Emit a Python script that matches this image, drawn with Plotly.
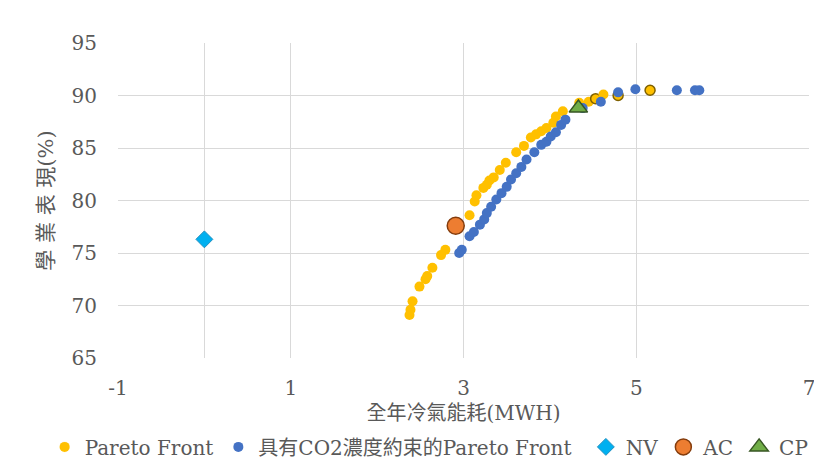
import plotly.graph_objects as go

# Pareto Front (yellow)
pf_x = [2.375, 2.386, 2.41, 2.49, 2.56, 2.58, 2.64, 2.74, 2.79, 2.92, 3.07, 3.13, 3.15, 3.23, 3.27,
        3.30, 3.35, 3.42, 3.49, 3.61, 3.70, 3.78, 3.84, 3.90, 3.96, 4.04, 4.07, 4.15, 4.34, 4.45,
        4.53, 4.62, 4.79, 5.16]
pf_y = [69.1, 69.6, 70.4, 71.8, 72.5, 72.8, 73.6, 74.8, 75.3, 77.4, 78.6, 79.9, 80.5, 81.2, 81.5,
        81.9, 82.2, 82.9, 83.6, 84.6, 85.2, 86.0, 86.3, 86.6, 86.9, 87.4, 88.0, 88.5, 89.3, 89.4,
        89.7, 90.1, 90.0, 90.5]
pf_outlined = [4.53, 4.79, 5.16]

# Pareto Front with CO2 constraint (blue)
co2_x = [2.95, 2.98, 3.07, 3.12, 3.19, 3.24, 3.27, 3.32, 3.38, 3.44, 3.50, 3.55, 3.61, 3.67, 3.73,
         3.82, 3.90, 3.96, 4.01, 4.07, 4.13, 4.18, 4.38, 4.59, 4.79, 4.99, 5.47, 5.68, 5.73]
co2_y = [75.0, 75.3, 76.6, 77.0, 77.7, 78.2, 78.8, 79.4, 80.1, 80.7, 81.3, 82.0, 82.6, 83.2, 83.9,
         84.6, 85.3, 85.6, 86.1, 86.5, 87.2, 87.7, 88.8, 89.4, 90.3, 90.6, 90.5, 90.5, 90.5]

nv_x, nv_y = [0.0], [76.3]
ac_x, ac_y = [2.91], [77.6]
cp_x, cp_y = [4.33], [88.8]

x_ticks = [-1, 1, 3, 5, 7]
y_ticks = [65, 70, 75, 80, 85, 90, 95]

font_fam = "DejaVu Serif, Noto Sans CJK TC, serif"
txt = "#595959"

pf_line_colors = ["#7F6000" if x in pf_outlined else "#FFC000" for x in pf_x]
pf_line_widths = [1.5 if x in pf_outlined else 0 for x in pf_x]

fig = go.Figure()
fig.add_trace(go.Scatter(x=pf_x, y=pf_y, mode="markers", name="Pareto Front", legend="legend",
                         marker=dict(color="#FFC000", size=10,
                                     line=dict(color=pf_line_colors, width=pf_line_widths))))
fig.add_trace(go.Scatter(x=co2_x, y=co2_y, mode="markers", name="具有CO2濃度約束的Pareto Front",
                         legend="legend",
                         marker=dict(color="#4472C4", size=10, line=dict(width=0))))
fig.add_trace(go.Scatter(x=nv_x, y=nv_y, mode="markers", name="NV", legend="legend2",
                         marker=dict(color="#00B0F0", size=13, symbol="diamond",
                                     line=dict(color="#1F8FC0", width=1))))
fig.add_trace(go.Scatter(x=ac_x, y=ac_y, mode="markers", name="AC", legend="legend2",
                         marker=dict(color="#ED7D31", size=17, symbol="circle",
                                     line=dict(color="#843C0C", width=1.5))))
fig.add_trace(go.Scatter(x=cp_x, y=cp_y, mode="markers", name="CP", legend="legend2",
                         marker=dict(color="#70AD47", size=16, symbol="triangle-up",
                                     line=dict(color="#375623", width=1.5))))

legend_common = dict(orientation="h", xref="container", yref="container", y=0.05, yanchor="middle",
                     font=dict(size=20, color=txt), itemwidth=30, tracegroupgap=0,
                     bgcolor="rgba(0,0,0,0)")

fig.update_layout(
    width=814, height=462,
    margin=dict(l=110, r=7, t=35, b=112),
    paper_bgcolor="white", plot_bgcolor="white",
    font=dict(family=font_fam, color=txt, size=20),
    showlegend=True,
    legend=dict(x=0.045, xanchor="left", **legend_common),
    legend2=dict(x=0.99, xanchor="right", **legend_common),
    xaxis=dict(range=[-1, 7], tickvals=x_ticks, ticktext=[str(v) for v in x_ticks],
               showgrid=True, gridcolor="#D9D9D9", gridwidth=1,
               zeroline=True, zerolinecolor="#D9D9D9", zerolinewidth=1,
               showline=False, ticklabelstandoff=16, ticklabeloverflow="allow",
               tickfont=dict(size=20, color=txt),
               title=dict(text="全年冷氣能耗(MWH)", font=dict(size=20, color=txt), standoff=6)),
    yaxis=dict(range=[65, 95], tickvals=y_ticks,
               showgrid=True, gridcolor="#D9D9D9", gridwidth=1,
               zeroline=False, showline=False, ticklabelstandoff=20,
               tickfont=dict(size=20, color=txt),
               title=dict(text="學 業 表 現(%)", font=dict(size=21, color=txt), standoff=12)),
)

fig.write_html("out.html")
